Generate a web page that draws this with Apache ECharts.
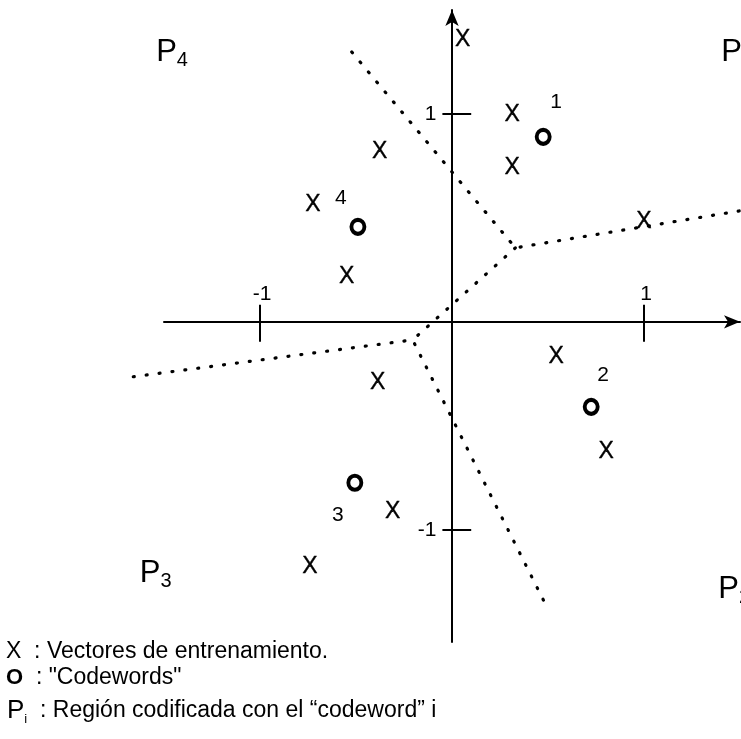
<!DOCTYPE html>
<html>
<head>
<meta charset="utf-8">
<script src="https://cdn.jsdelivr.net/npm/echarts@6/dist/echarts.min.js"></script>
<style>html,body{margin:0;padding:0;background:#fff}#box{width:741px;height:739px}</style>
</head>
<body>
<div id="box"></div>
<script>
// training vectors (X) and codewords (o)
var trainingVectors = [[0.055,1.356],[0.314,0.995],[0.314,0.74],[-0.377,0.817],[1.0,0.48],[-0.725,0.563],
    [-0.548,0.216],[0.543,-0.168],[-0.387,-0.293],[0.803,-0.625],[-0.309,-0.913],[-0.74,-1.178]];
var codewords = [[0.475,0.89],[0.725,-0.409],[-0.506,-0.774],[-0.49,0.457]];
var codewordNames = ['1','2','3','4'];
// regions P1..P4
var regionNames = ['1','2','3','4'];
var regionPoints = [[1.485,1.298],[1.47,-1.288],[-1.543,-1.212],[-1.458,1.298]];
// dotted boundaries between regions
var boundaryTop = [[-0.522,1.298],[0.33,0.356],[1.5,0.534]];
var boundaryMid = [[0.33,0.356],[-0.205,-0.087]];
var boundaryLow = [[-1.66,-0.264],[-0.205,-0.087],[0.496,-1.375]];
var tickValues = [-1, 1];

var FONT = "'Liberation Sans', Arial, sans-serif";
var INK = '#000';

var myChart = echarts.init(document.getElementById('box'));

var idxOffsets = [[13,-35],[12,-32],[-17,32],[-17,-29]];

var tickLines = [];
tickValues.forEach(function(v){
    tickLines.push({coords: [[v, 0.082], [v, -0.096]]});
    tickLines.push({coords: [[-0.05, v], [0.1, v]]});
});

var option = {
    animation: false,
    grid: {left: 164, right: 1, top: 10, bottom: 97, outerBoundsMode: 'none'},
    xAxis: {
        type: 'value', min: -1.5, max: 1.5,
        splitLine: {show: false},
        axisTick: {show: false},
        axisLabel: {show: false},
        axisLine: {onZero: true, symbol: ['none','arrow'], symbolSize: [10,16], lineStyle: {color: INK, width: 2}}
    },
    yAxis: {
        type: 'value', min: -1.54, max: 1.5,
        splitLine: {show: false},
        axisTick: {show: false},
        axisLabel: {show: false},
        axisLine: {onZero: true, symbol: ['none','arrow'], symbolSize: [10,16], lineStyle: {color: INK, width: 2}}
    },
    series: [
        {
            type: 'lines', coordinateSystem: 'cartesian2d', polyline: true, clip: false, silent: true,
            lineStyle: {color: INK, width: 3.2, type: [1, 12], cap: 'round', opacity: 1},
            data: [{coords: boundaryTop}, {coords: boundaryMid}, {coords: boundaryLow}]
        },
        {
            type: 'lines', coordinateSystem: 'cartesian2d', clip: false, silent: true,
            lineStyle: {color: INK, width: 2, opacity: 1},
            data: tickLines
        },
        // tick labels on the x axis
        {
            type: 'scatter', clip: false, silent: true,
            symbolSize: 1, itemStyle: {color: 'transparent', opacity: 1},
            label: {show: true, position: 'inside', offset: [2, -28], fontSize: 21, color: INK, opacity: 1, fontFamily: FONT,
                formatter: function(p){ return String(p.value[0]); }},
            data: tickValues.map(function(v){ return [v, 0]; })
        },
        // tick labels on the y axis
        {
            type: 'scatter', clip: false, silent: true,
            symbolSize: 1, itemStyle: {color: 'transparent', opacity: 1},
            label: {show: true, position: 'left', distance: 15, fontSize: 21, color: INK, opacity: 1, fontFamily: FONT,
                formatter: function(p){ return String(p.value[1]); }},
            data: tickValues.map(function(v){ return [0, v]; })
        },
        {
            type: 'scatter', clip: false, silent: true,
            symbolSize: 1, itemStyle: {color: 'transparent', opacity: 1},
            label: {show: true, position: 'inside', formatter: 'X', fontSize: 23, color: INK, opacity: 1, fontFamily: FONT,
                textBorderColor: INK, textBorderWidth: 0.4},
            data: trainingVectors
        },
        {
            type: 'scatter', clip: false, silent: true,
            symbol: 'circle', symbolSize: [13,14],
            itemStyle: {color: '#fff', borderColor: INK, borderWidth: 4, opacity: 1},
            label: {show: true, position: 'inside', fontSize: 21, color: INK, opacity: 1, fontFamily: FONT,
                formatter: function(p){ return codewordNames[p.dataIndex]; }},
            data: codewords.map(function(c, i){
                return {value: c, label: {offset: idxOffsets[i]}};
            })
        },
        {
            type: 'scatter', clip: false, silent: true,
            symbolSize: 1, itemStyle: {color: 'transparent', opacity: 1},
            label: {show: true, position: 'inside', color: INK, opacity: 1, fontFamily: FONT,
                formatter: function(p){ return '{p|P}{s|' + regionNames[p.dataIndex] + '}'; },
                rich: {
                    p: {fontSize: 31, lineHeight: 36, fontFamily: FONT, color: INK},
                    s: {fontSize: 20, lineHeight: 20, verticalAlign: 'bottom', fontFamily: FONT, color: INK}
                }},
            data: regionPoints
        }
    ],
    graphic: [
        {type: 'text', left: 6, top: 640, style: {text: 'X  : Vectores de entrenamiento.', font: '23px ' + FONT, fill: INK}},
        {type: 'text', left: 6, top: 666, style: {text: '{b|O}  : "Codewords"', font: '23px ' + FONT, fill: INK,
            rich: {b: {fontSize: 22, fontWeight: 'bold', fontFamily: FONT}}}},
        {type: 'text', left: 7, top: 698, style: {text: '{p|P}{s|i}  : Región codificada con el “codeword” i', font: '23px ' + FONT, fill: INK,
            rich: {p: {fontSize: 26, lineHeight: 30, fontFamily: FONT}, s: {fontSize: 13, lineHeight: 14, verticalAlign: 'bottom', fontFamily: FONT}}}}
    ]
};

myChart.setOption(option, true);
</script>
</body>
</html>
